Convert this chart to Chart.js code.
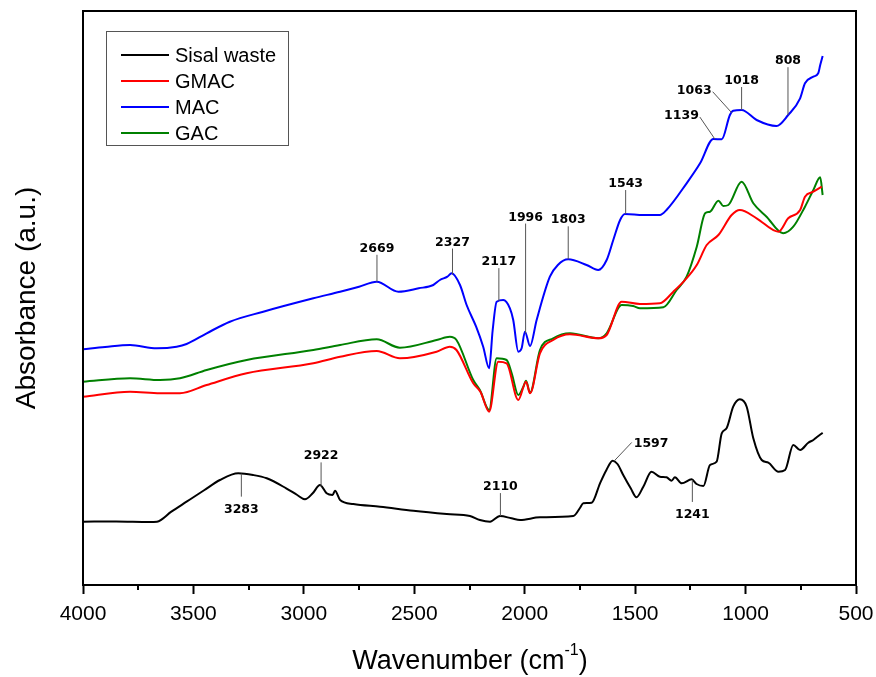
<!DOCTYPE html>
<html>
<head>
<meta charset="utf-8">
<script src="https://cdn.jsdelivr.net/npm/chart.js@4.4.0/dist/chart.umd.min.js"></script>
<style>
  body { margin: 0; background: #fff; }
  canvas { display: block; }
</style>
</head>
<body>
<canvas id="espectro" width="876" height="677"></canvas>
<script>
// DATOS (absorbancia en unidades arbitrarias) ------------------------------
const nombres = ['Sisal waste', 'GMAC', 'MAC', 'GAC'];
const colores = ['rgb(0,0,0)', 'rgb(255,0,0)', 'rgb(0,0,255)', 'rgb(0,128,0)'];

const sisalWn = [4000, 3850, 3700, 3665, 3600, 3531, 3450, 3380, 3297, 3230, 3168, 3080, 3030, 2995, 2960, 2927, 2897, 2870, 2859, 2836, 2776, 2655, 2504, 2353, 2248, 2203, 2157, 2112, 2060, 2021, 1931, 1780, 1750, 1735, 1697, 1659, 1630, 1602, 1580, 1554, 1520, 1494, 1463, 1426, 1388, 1358, 1335, 1320, 1289, 1244, 1222, 1191, 1161, 1131, 1108, 1086, 1056, 1026, 995, 965, 927, 897, 851, 821, 784, 753, 716, 693, 678, 651];
const sisalAbs = [63.3, 63.5, 63, 63.3, 73.3, 83.3, 95, 105, 111.7, 110, 106.7, 96.7, 90, 85.7, 91.7, 100, 91.7, 90, 94.3, 85, 81, 78.3, 74.3, 71, 69, 65, 63.3, 69, 66.7, 65, 67.7, 69, 77, 81.7, 82.3, 101.7, 115, 124.3, 121, 110, 96.7, 87.7, 98.3, 113.3, 108.3, 107.7, 104.3, 107.7, 101.7, 105.7, 101, 99, 120, 123.3, 151.7, 156.7, 178.3, 185.7, 178.3, 146.7, 125, 122.3, 113.3, 115, 140, 135, 142.3, 145, 147.7, 152.3];

const gmacWn = [4000, 3787, 3651, 3561, 3440, 3259, 2957, 2836, 2670, 2565, 2399, 2339, 2309, 2233, 2200, 2161, 2120, 2082, 2029, 1994, 1976, 1931, 1871, 1795, 1667, 1629, 1561, 1478, 1388, 1327, 1281, 1221, 1176, 1123, 1063, 1026, 950, 851, 807, 753, 731, 693, 655];
const gmacAbs = [188.3, 193.3, 191.7, 191.7, 200, 211.7, 221.7, 228.3, 234, 226.7, 233.3, 238.3, 235, 201.7, 193, 173.3, 223.3, 221.7, 185, 203.3, 191.7, 231.7, 245, 250.7, 246.7, 250, 283.3, 281, 281.7, 293.3, 303.3, 320, 340, 350, 370, 375, 366.7, 353.3, 366.7, 375, 388.3, 393.3, 398.3];

const macWn = [4000, 3900, 3787, 3666, 3576, 3531, 3440, 3335, 3184, 2957, 2836, 2750, 2670, 2572, 2480, 2414, 2384, 2350, 2331, 2293, 2263, 2220, 2188, 2161, 2145, 2127, 2097, 2067, 2052, 2029, 2014, 1999, 1976, 1946, 1886, 1850, 1803, 1720, 1667, 1629, 1599, 1568, 1546, 1463, 1388, 1358, 1267, 1206, 1146, 1108, 1071, 1056, 1018, 950, 860, 807, 753, 731, 693, 671, 662, 651];
const macAbs = [235.7, 238, 240, 236.7, 238.3, 241, 251.7, 263.3, 273.3, 286.7, 293.3, 298.3, 303.3, 293.3, 296.7, 300, 305, 308.3, 311.7, 300, 280, 258.3, 238.3, 216.7, 255, 283.3, 285, 276.7, 265, 233.3, 236.7, 253.3, 239, 265, 308.3, 320, 325.7, 320, 315, 325, 345, 365, 371, 370, 370, 375, 401.7, 421.7, 446, 445.7, 470, 474.3, 475, 465, 459, 470, 486.7, 501.7, 508.3, 511.7, 520, 529];

const gacWn = [4000, 3787, 3651, 3561, 3440, 3259, 2957, 2836, 2670, 2565, 2399, 2339, 2309, 2233, 2203, 2161, 2127, 2082, 2059, 2029, 2006, 1994, 1976, 1931, 1871, 1795, 1667, 1629, 1561, 1509, 1478, 1372, 1312, 1267, 1221, 1183, 1161, 1123, 1101, 1078, 1018, 965, 905, 830, 784, 731, 693, 662, 651];
const gacAbs = [203.3, 206.7, 205, 206.7, 215, 225, 235, 240, 245.7, 237.3, 245, 248.3, 245, 205, 195, 175, 226.7, 225, 211.7, 190, 198.3, 204.3, 192.3, 235, 246.7, 251.7, 246.7, 251.7, 280, 279, 276.7, 277.7, 295, 308.3, 338.3, 371.7, 373.3, 384.3, 379, 380, 403.3, 381.7, 368.3, 351.7, 358.3, 378.3, 395, 407.7, 390];

// eje x
const wnMin = 500;
const wnMax = 4000;
const wnPaso = 500;

// picos marcados: texto (numero de onda) y serie (indice en nombres)
const picosTexto = ['3283', '2922', '2110', '1597', '1241', '2669', '2327', '2117', '1996', '1803', '1543', '1139', '1063', '1018', '808'];
const picosSerie = [0, 0, 0, 0, 0, 2, 2, 2, 2, 2, 2, 2, 2, 2, 2];
// DATOS END

const series = [[sisalWn, sisalAbs], [gmacWn, gmacAbs], [macWn, macAbs], [gacWn, gacAbs]];

function valorEn(wn, xs, ys) {
  for (let i = 0; i < xs.length - 1; i++) {
    if (wn <= xs[i] && wn >= xs[i + 1]) {
      let t = (xs[i] - wn) / (xs[i] - xs[i + 1]);
      return ys[i] + t * (ys[i + 1] - ys[i]);
    }
  }
  return ys[ys.length - 1];
}

// posicion de las etiquetas: [dx, dy de la linea guia, lado del texto]
const guias = [
  [0, 23, 'b'], [0, -24, 'a'], [0, -23, 'a'], [18, -19, 'r'], [0, 22, 'b'],
  [0, -27, 'a'], [0, -26, 'a'], [0, -33, 'a'], [0, -110, 'a'], [0, -33, 'a'],
  [0, -24, 'a'], [-15, -22, 'l'], [-19, -21, 'l'], [0, -23, 'a'], [0, -48, 'a']
];

// PLUGIN MARCO / PICOS / LEYENDA / TITULOS ---------------------------------
const decoracion = {
  id: 'decoracion',
  afterDatasetsDraw(chart) {
    const { ctx, chartArea: a, scales: { x, y } } = chart;
    ctx.save();

    // marco
    ctx.strokeStyle = '#000';
    ctx.lineWidth = 2;
    ctx.strokeRect(a.left, a.top, a.right - a.left, a.bottom - a.top);

    // ticks menores
    for (let w = wnMin + wnPaso / 2; w < wnMax; w += wnPaso) {
      let px = Math.round(x.getPixelForValue(w));
      ctx.beginPath();
      ctx.moveTo(px, a.bottom);
      ctx.lineTo(px, a.bottom + 5);
      ctx.stroke();
    }

    // picos
    ctx.font = 'bold 12.5px "DejaVu Sans"';
    ctx.fillStyle = '#000';
    picosTexto.forEach((txt, i) => {
      let s = series[picosSerie[i]];
      let wn = parseFloat(txt);
      let px = x.getPixelForValue(wn);
      let py = y.getPixelForValue(valorEn(wn, s[0], s[1]));
      let g = guias[i];
      let ex = px + g[0], ey = py + g[1];
      ctx.strokeStyle = '#555';
      ctx.lineWidth = 1;
      ctx.beginPath();
      ctx.moveTo(px, py);
      ctx.lineTo(ex, ey);
      ctx.stroke();
      ctx.textBaseline = 'alphabetic';
      if (g[2] === 'a') {
        ctx.textAlign = 'center';
        ctx.fillText(txt, ex, ey - 3);
      } else if (g[2] === 'b') {
        ctx.textAlign = 'center';
        ctx.fillText(txt, ex, ey + 16);
      } else if (g[2] === 'r') {
        ctx.textAlign = 'left';
        ctx.fillText(txt, ex + 2, ey + 5);
      } else {
        ctx.textAlign = 'right';
        ctx.fillText(txt, ex - 1, ey + 2);
      }
    });

    // leyenda
    ctx.strokeStyle = '#555';
    ctx.lineWidth = 1;
    ctx.strokeRect(106.5, 31.5, 182, 114);
    ctx.font = '20px "Liberation Sans"';
    ctx.textAlign = 'left';
    ctx.textBaseline = 'middle';
    nombres.forEach((n, i) => {
      let yy = 55 + i * 26;
      ctx.strokeStyle = colores[i];
      ctx.lineWidth = 2;
      ctx.beginPath();
      ctx.moveTo(121, yy);
      ctx.lineTo(169, yy);
      ctx.stroke();
      ctx.fillStyle = '#000';
      ctx.fillText(n, 175, yy + 1);
    });

    // titulo eje x con superindice
    ctx.textBaseline = 'alphabetic';
    let t1 = 'Wavenumber (cm', t2 = '-1', t3 = ')';
    ctx.font = '27px "Liberation Sans"';
    let w1 = ctx.measureText(t1).width;
    let w3 = ctx.measureText(t3).width;
    ctx.font = '16px "Liberation Sans"';
    let w2 = ctx.measureText(t2).width;
    let x0 = 470 - (w1 + w2 + w3) / 2;
    ctx.font = '27px "Liberation Sans"';
    ctx.fillText(t1, x0, 669);
    ctx.font = '16px "Liberation Sans"';
    ctx.fillText(t2, x0 + w1, 655);
    ctx.font = '27px "Liberation Sans"';
    ctx.fillText(t3, x0 + w1 + w2, 669);

    // titulo eje y
    ctx.translate(27, 298);
    ctx.rotate(-Math.PI / 2);
    ctx.textAlign = 'center';
    ctx.textBaseline = 'middle';
    ctx.font = '28px "Liberation Sans"';
    ctx.fillText('Absorbance (a.u.)', 0, 0);
    ctx.restore();
  }
};

// GRAFICO -----------------------------------------------------------------
const datasets = series.map((s, i) => ({
  label: nombres[i],
  data: s[0].map((w, j) => ({ x: w, y: s[1][j] })),
  borderColor: colores[i],
  borderWidth: 2,
  pointRadius: 0,
  fill: false,
  cubicInterpolationMode: 'monotone',
  tension: 0.4
}));
// MAC encima, GAC sobre GMAC como en el original
const orden = [datasets[0], datasets[1], datasets[3], datasets[2]];

new Chart(document.getElementById('espectro'), {
  type: 'line',
  data: { datasets: orden },
  plugins: [decoracion],
  options: {
    responsive: false,
    devicePixelRatio: 1,
    animation: false,
    layout: { padding: { left: 83, top: 11, right: 20, bottom: 0 } },
    plugins: { legend: { display: false }, tooltip: { enabled: false } },
    scales: {
      x: {
        type: 'linear',
        reverse: true,
        min: wnMin,
        max: wnMax,
        afterFit: (scale) => {
          scale.height = 92;
          scale.paddingLeft = 0;
          scale.paddingRight = 0;
        },
        grid: { drawOnChartArea: false, drawTicks: true, tickLength: 9, tickWidth: 2, tickColor: '#000' },
        border: { display: true, color: '#000', width: 2 },
        ticks: {
          stepSize: wnPaso,
          autoSkip: false,
          maxRotation: 0,
          color: '#000',
          padding: 8,
          font: { family: 'Liberation Sans', size: 21 },
          callback: (v) => String(v)
        }
      },
      y: {
        display: false,
        min: 0,
        max: 574
      }
    }
  }
});
</script>
</body>
</html>
